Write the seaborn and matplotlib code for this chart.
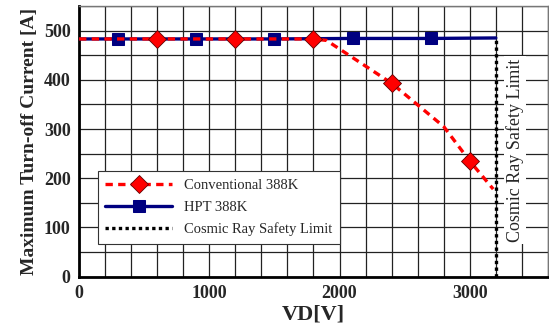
import matplotlib
matplotlib.use("Agg")
import matplotlib.pyplot as plt
import seaborn as sns
from matplotlib.ticker import MultipleLocator


# Conventional 388K (red dashed, diamonds)
conv_vd = [0, 600, 1200, 1800, 1900, 2400, 2800, 3000, 3180]
conv_i = [483, 483, 483, 483, 480, 393, 305, 235, 178]
conv_marks = [1, 2, 3, 5, 7]

# HPT 388K (navy solid, squares)
hpt_vd = [0, 300, 900, 1500, 2100, 2700, 3200]
hpt_i = [483, 483, 483, 483, 484, 484, 485]
hpt_marks = [1, 2, 3, 4, 5]

# Cosmic ray safety limit
limit_vd = [3200, 3200]
limit_i = [0, 485]

X_LABEL = "VD[V]"
Y_LABEL = "Maximum Turn-off Current [A]"
LIMIT_TEXT = "Cosmic Ray Safety Limit"


def main():
    sns.set_theme(style="white")
    plt.rcParams["font.family"] = ["Liberation Serif", "DejaVu Serif"]

    fig = plt.figure(figsize=(5.49, 3.31), dpi=100)
    ax = fig.add_axes([0.144, 0.164, 0.854, 0.818])

    sns.lineplot(
        x=conv_vd, y=conv_i, ax=ax, color="#ff0000", linewidth=2.4,
        linestyle=(0, (2.2, 1.6)), marker="D", markersize=9,
        markerfacecolor="#ff0000", markeredgecolor="#600000",
        markeredgewidth=0.6, markevery=conv_marks, estimator=None,
        label="Conventional 388K", zorder=4,
    )
    sns.lineplot(
        x=hpt_vd, y=hpt_i, ax=ax, color="#000080", linewidth=2.4,
        marker="s", markersize=9, markeredgecolor="#000080",
        markevery=hpt_marks, estimator=None, label="HPT 388K", zorder=3,
    )
    sns.lineplot(
        x=limit_vd, y=limit_i, ax=ax, color="black", linewidth=2.4,
        linestyle=(0, (1.0, 1.0)), label="Cosmic Ray Safety Limit",
        estimator=None, sort=False, zorder=5,
    )

    ax.set_xlim(0, 3600)
    ax.set_ylim(0, 550)
    ax.xaxis.set_major_locator(MultipleLocator(1000))
    ax.xaxis.set_minor_locator(MultipleLocator(200))
    ax.yaxis.set_major_locator(MultipleLocator(100))
    ax.yaxis.set_minor_locator(MultipleLocator(50))
    ax.grid(which="both", color="#222222", linewidth=0.9)
    ax.set_axisbelow(True)
    ax.tick_params(which="both", length=0, labelsize=13, pad=6)
    for lbl in ax.get_xticklabels() + ax.get_yticklabels():
        lbl.set_fontweight("bold")

    ax.set_xlabel(X_LABEL, fontsize=16, fontweight="bold", labelpad=2)
    ax.set_ylabel(Y_LABEL, fontsize=14, fontweight="bold", labelpad=4)

    for side in ["left", "bottom"]:
        ax.spines[side].set_color("black")
        ax.spines[side].set_linewidth(2.0)
    for side in ["top", "right"]:
        ax.spines[side].set_color("#777777")
        ax.spines[side].set_linewidth(1.0)

    ax.text(
        3350, 257, LIMIT_TEXT, rotation=90, ha="center", va="center",
        fontsize=13, bbox=dict(facecolor="white", edgecolor="none", pad=1.5),
        zorder=6,
    )

    leg = ax.legend(
        loc="lower left", bbox_to_anchor=(0.025, 0.095), fontsize=10.5,
        frameon=True, fancybox=False, edgecolor="#333333", framealpha=1,
        handlelength=4.6, borderpad=0.5, labelspacing=0.6,
    )
    leg.get_frame().set_linewidth(0.8)

    fig.savefig("out.png", dpi=100)
    plt.close(fig)


if __name__ == "__main__":
    main()
